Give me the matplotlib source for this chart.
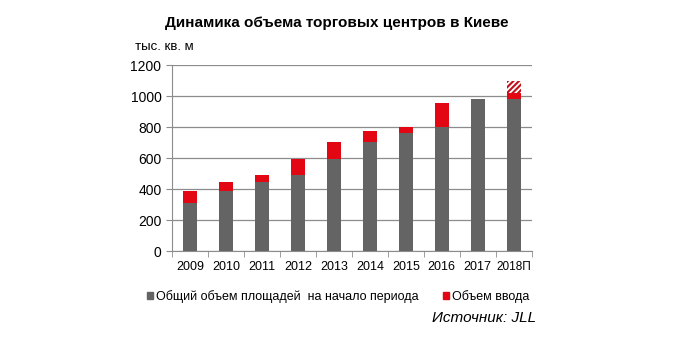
import matplotlib
matplotlib.use("Agg")
import matplotlib.pyplot as plt
import numpy as np
from matplotlib.patches import Patch

plt.rcParams['font.family'] = ['Liberation Sans', 'DejaVu Sans']
plt.rcParams['hatch.color'] = '#c0101a'
plt.rcParams['hatch.linewidth'] = 1.5

years = ['2009', '2010', '2011', '2012', '2013', '2014', '2015', '2016', '2017', '2018П']
stock = [312, 389, 443, 488, 594, 703, 759, 798, 983, 983]
new_supply = [75, 54, 45, 106, 109, 71, 39, 157, 0, 34]
forecast_extra = [0, 0, 0, 0, 0, 0, 0, 0, 0, 78]

gray = '#646464'
red = '#e30613'

fig = plt.figure(figsize=(6.74, 3.37), dpi=100)
ax = fig.add_axes([0.255, 0.255, 0.534, 0.552])

x = np.arange(len(years))
w = 0.4
ax.bar(x, stock, w, color=gray, zorder=3)
ax.bar(x, new_supply, w, bottom=stock, color=red, zorder=3)
bottom2 = np.array(stock) + np.array(new_supply)
ax.bar(x, forecast_extra, w, bottom=bottom2, color='white', hatch='//////',
       edgecolor='#c0101a', linewidth=0, zorder=3)

ax.set_ylim(0, 1200)
ax.set_xlim(-0.5, len(years) - 0.5)
ax.set_yticks(range(0, 1201, 200))
ax.yaxis.grid(True, color='#8c8c8c', linewidth=0.9, zorder=0)
ax.set_xticks(x)
ax.set_xticklabels(years)
ax.get_xticklabels()[-1].set_fontsize(8.5)
ax.set_xticks(np.arange(-0.5, len(years), 1), minor=True)
ax.tick_params(axis='x', which='major', length=0, pad=7, labelsize=9)
ax.tick_params(axis='x', which='minor', length=4, color='#8c8c8c')
ax.tick_params(axis='y', length=4, color='#8c8c8c', labelsize=10)
ax.get_xticklabels()[-1].set_fontsize(8.5)
for s in ['top', 'right']:
    ax.spines[s].set_visible(False)
for s in ['left', 'bottom']:
    ax.spines[s].set_color('#8c8c8c')

fig.text(0.5, 0.932, 'Динамика объема торговых центров в Киеве', ha='center',
         va='center', fontsize=11, fontweight='bold')
fig.text(0.2, 0.86, 'тыс. кв. м', ha='left', va='center', fontsize=9.5)

handles = [Patch(color=gray, label='Общий объем площадей  на начало периода'),
           Patch(color=red, label='Объем ввода')]
fig.legend(handles=handles, loc='center', bbox_to_anchor=(0.502, 0.12), ncol=2,
           frameon=False, fontsize=9, handlelength=0.45, handleheight=0.45,
           handletextpad=0.25, columnspacing=2.0)
fig.text(0.795, 0.055, 'Источник: JLL', ha='right', va='center', fontsize=11,
         style='italic')

fig.savefig('out.png', dpi=100)
